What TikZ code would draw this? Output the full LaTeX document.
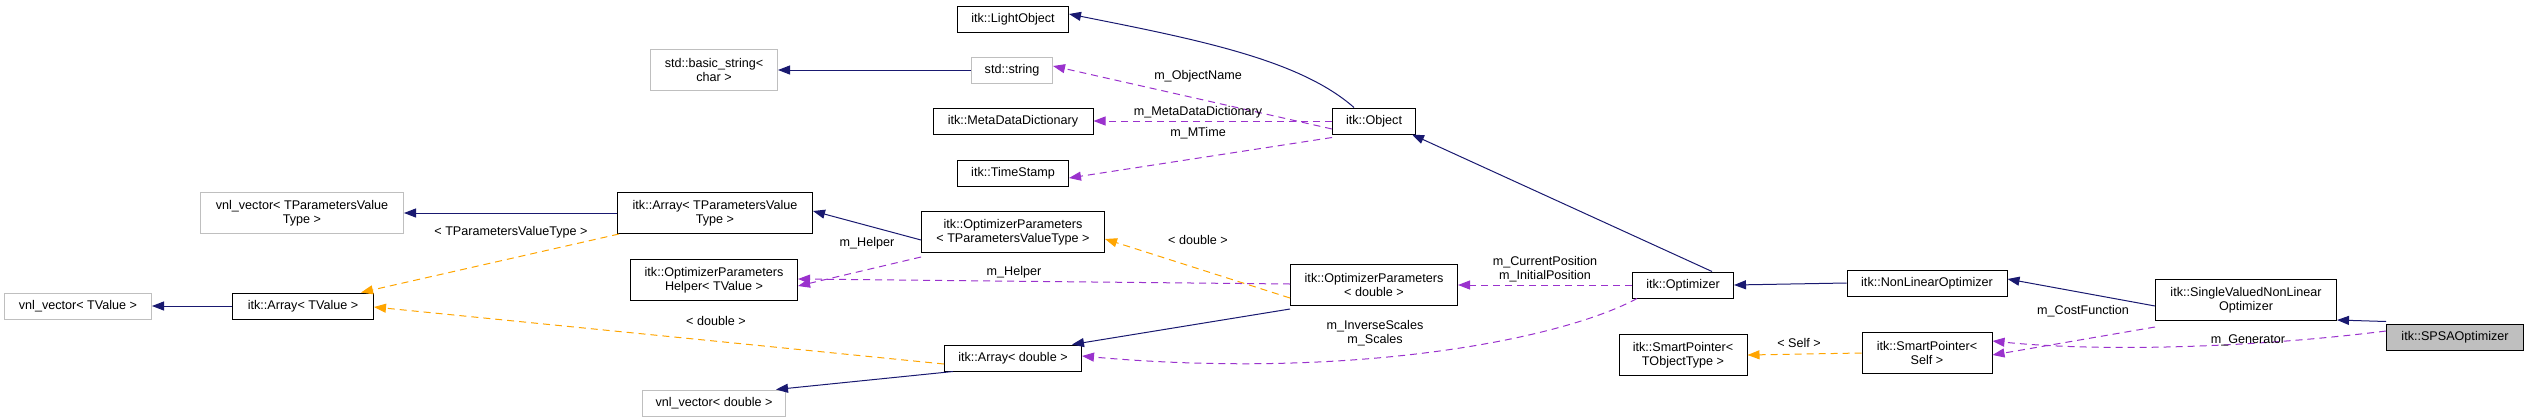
\documentclass[tikz,border=0pt]{standalone}
\usepackage{fontspec}
\setmainfont{Liberation Sans}
\usetikzlibrary{arrows.meta}
\definecolor{navy}{HTML}{191970}
\definecolor{purp}{HTML}{9A32CD}
\definecolor{orng}{HTML}{FFA500}
\definecolor{gbox}{HTML}{BFBFBF}
\begin{document}
\begin{tikzpicture}[x=1pt,y=-1pt,
  box/.style={draw=black,line width=1pt,inner sep=0pt,align=center,font=\fontsize{12.6}{14.5}\selectfont,minimum height=26pt},
  two/.style={minimum height=41pt},
  ext/.style={box,draw=gbox},
  inh/.style={draw=navy,line width=1pt,-{Triangle[length=12pt,width=9pt]}},
  use/.style={draw=purp,line width=1pt,dashed,dash pattern=on 7pt off 5pt,-{Triangle[length=12pt,width=9pt]}},
  tpl/.style={draw=orng,line width=1pt,dashed,dash pattern=on 7pt off 5pt,-{Triangle[length=12pt,width=9pt]}},
  lab/.style={font=\fontsize{12.6}{13.5}\selectfont,align=center,inner sep=0pt}]
\useasboundingbox (0,0) rectangle (2524,416);
% nodes
\node[ext,two,minimum width=127pt] (bs) at (714,70) {std::basic\_string\textless\\char \textgreater};
\node[ext,two,minimum width=203pt] (vtp) at (302,213) {vnl\_vector\textless{} TParametersValue\\Type \textgreater};
\node[box,two,minimum width=195pt] (atp) at (715,213) {itk::Array\textless{} TParametersValue\\Type \textgreater};
\node[box,two,minimum width=167pt] (hlp) at (714,280) {itk::OptimizerParameters\\Helper\textless{} TValue \textgreater};
\node[ext,minimum width=147pt] (vtv) at (78,306) {vnl\_vector\textless{} TValue \textgreater};
\node[box,minimum width=141pt] (atv) at (303,306) {itk::Array\textless{} TValue \textgreater};
\node[ext,minimum width=143pt] (vd) at (714,403) {vnl\_vector\textless{} double \textgreater};
\node[box,minimum width=111pt] (lo) at (1013,19) {itk::LightObject};
\node[ext,minimum width=81pt] (ss) at (1012,70) {std::string};
\node[box,minimum width=160pt] (md) at (1013,121) {itk::MetaDataDictionary};
\node[box,minimum width=111pt] (ts) at (1013,173) {itk::TimeStamp};
\node[box,two,minimum width=183pt] (optp) at (1013,232) {itk::OptimizerParameters\\\textless{} TParametersValueType \textgreater};
\node[box,minimum width=83pt] (obj) at (1374,121) {itk::Object};
\node[box,two,minimum width=167pt] (opd) at (1374,285) {itk::OptimizerParameters\\\textless{} double \textgreater};
\node[box,minimum width=137pt] (ad) at (1013,358) {itk::Array\textless{} double \textgreater};
\node[box,minimum width=101pt] (opt) at (1683,285) {itk::Optimizer};
\node[box,two,minimum width=128pt] (spt) at (1683,355) {itk::SmartPointer\textless\\TObjectType \textgreater};
\node[box,minimum width=160pt] (nlo) at (1927,283) {itk::NonLinearOptimizer};
\node[box,two,minimum width=181pt] (svo) at (2246,300) {itk::SingleValuedNonLinear\\Optimizer};
\node[box,two,minimum width=130pt] (sps) at (1927,353) {itk::SmartPointer\textless\\Self \textgreater};
\node[box,fill=gbox,minimum width=137pt] (spsa) at (2455,337) {itk::SPSAOptimizer};
% inheritance
\draw[inh] (ss.west) -- (bs.east);
\draw[inh] ([xshift=-20pt]obj.north) .. controls (1300,60) and (1200,40) .. ([yshift=5pt]lo.east);
\draw[inh] (atp.west) -- (vtp.east);
\draw[inh] ([yshift=-8pt]optp.west) -- ([yshift=2pt]atp.east);
\draw[inh] (atv.west) -- (vtv.east);
\draw[inh] ([yshift=-3pt]opd.south west) -- ([xshift=-10pt]ad.north east);
\draw[inh] ([xshift=-60pt]ad.south) -- ([xshift=-10pt]vd.north east);
\draw[inh] ([xshift=-22pt]opt.north east) -- ([xshift=-4pt]obj.south east);
\draw[inh] (nlo.west) -- (opt.east);
\draw[inh] ([yshift=-6pt]svo.west) -- ([yshift=4pt]nlo.east);
\draw[inh] ([yshift=2pt]spsa.north west) -- ([yshift=1pt]svo.south east);
% usage
\draw[use] ([yshift=-8pt]obj.west) -- ([yshift=4pt]ss.east);
\node[lab] (l3) at (1198,76) {m\_ObjectName};
\draw[use] (obj.west) -- (md.east);
\node[lab] (l4) at (1198,112) {m\_MetaDataDictionary};
\draw[use] ([yshift=-3pt]obj.south west) -- ([yshift=-5pt]ts.east);
\node[lab] (l5) at (1198,133) {m\_MTime};
\draw[use] ([yshift=-4pt]optp.south west) -- ([yshift=-6pt]hlp.east);
\node[lab] (l6) at (867,243) {m\_Helper};
\draw[use] ([yshift=1pt]opd.west) -- ([yshift=1pt]hlp.east);
\node[lab] (l7) at (1014,272) {m\_Helper};
\draw[use] (opt.west) -- node[lab,above=3pt]{m\_CurrentPosition\\m\_InitialPosition} (opd.east);
\draw[use] ([xshift=5pt]opt.south west) .. controls (1560,340) and (1350,380) .. ([yshift=2pt]ad.east);
\node[lab] (l1) at (1375,333) {m\_InverseScales\\m\_Scales};
\draw[use] ([yshift=-6pt]svo.south west) -- ([yshift=-2pt]sps.east);
\node[lab] (l8) at (2083,311) {m\_CostFunction};
\draw[use] ([yshift=6pt]spsa.west) .. controls (2250,348) and (2100,352) .. ([yshift=12pt]sps.east);
\node[lab] (l2) at (2248,340) {m\_Generator};
% template
\draw[tpl] ([xshift=2pt]atp.south west) -- ([xshift=-13pt]atv.north east);
\node[lab] (l9) at (511,232) {\textless{} TParametersValueType \textgreater};
\draw[tpl] ([yshift=-6pt]ad.west) -- ([yshift=-1pt]atv.east);
\node[lab] (l10) at (716,321) {\textless{} double \textgreater};
\draw[tpl] ([yshift=-13pt]opd.west) -- ([yshift=-7pt]optp.east);
\node[lab] (l11) at (1198,240) {\textless{} double \textgreater};
\draw[tpl] (sps.west) -- (spt.east);
\node[lab] (l12) at (1799,343) {\textless{} Self \textgreater};
\end{tikzpicture}
\end{document}
